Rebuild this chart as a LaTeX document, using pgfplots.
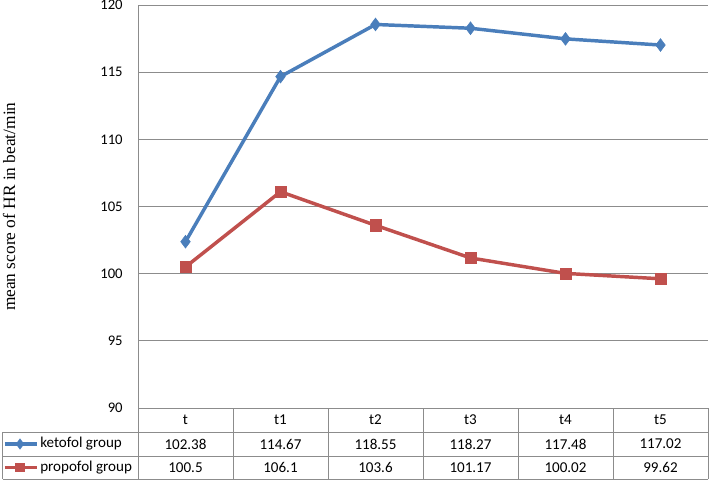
\documentclass[border=0pt]{standalone}
\usepackage{fontspec}
\setmainfont{Carlito}
\newfontfamily\timesfont{Liberation Serif}
\usepackage{pgfplots}
\usepackage{pgfplotstable}
\pgfplotsset{compat=1.18}
\definecolor{ketoblue}{RGB}{74,126,187}
\definecolor{propored}{RGB}{192,80,77}
\definecolor{gridgray}{RGB}{140,140,140}

\pgfplotstableread{
idx keto propo
0 102.38 100.5
1 114.67 106.1
2 118.55 103.6
3 118.27 101.17
4 117.48 100.02
5 117.02 99.62
}\hrdata

\begin{document}
\begin{tikzpicture}
\useasboundingbox (-103.5pt,-54pt) rectangle (428.25pt,306pt);
\begin{axis}[
    scale only axis,
    width=427.5pt, height=302.25pt,
    xmin=-0.5, xmax=5.5,
    ymin=90, ymax=120,
    ytick={90,95,...,120},
    xtick=\empty,
    ymajorgrids,
    grid style={gridgray, line width=0.75pt},
    axis line style={draw=none},
    major tick length=0pt,
    yticklabel style={font=\fontsize{11}{12}\selectfont, xshift=-8pt},
    /pgf/number format/assume math mode=true,
    clip=false,
]
\draw[gridgray, line width=0.75pt] (rel axis cs:0,0) -- (rel axis cs:0,1);
\addplot[ketoblue, line width=2.6pt, mark=diamond*,
    mark options={solid, line width=0.4pt}, mark size=4.8pt]
    table[x=idx, y=keto] {\hrdata};
\addplot[propored, line width=2.6pt, mark=square*,
    mark options={solid, line width=0.4pt}, mark size=4.2pt]
    table[x=idx, y=propo] {\hrdata};
\end{axis}

% data table under the plot
\begin{scope}[gridgray, line width=0.75pt]
\draw (0pt,0pt) -- (0pt,-53.25pt);
\draw (-101.25pt,-18pt) -- (427.5pt,-18pt);
\draw (-101.25pt,-36pt) -- (427.5pt,-36pt);
\draw (-101.25pt,-53.25pt) -- (427.5pt,-53.25pt);
\draw (-101.25pt,-18pt) -- (-101.25pt,-53.25pt);
\foreach \c in {1,...,6}
  \draw ({71.25pt*\c},0pt) -- ({71.25pt*\c},-53.25pt);
\end{scope}

\begin{scope}[every node/.style={font=\fontsize{11.3}{12}\selectfont, inner sep=0pt}]
\foreach \lab [count=\i from 0] in {t,t1,t2,t3,t4,t5}
  \node at ({35.625pt+71.25pt*\i},-9pt) {\lab};
\foreach \v [count=\i from 0] in {102.38,114.67,118.55,118.27,117.48,117.02}
  \node at ({35.625pt+71.25pt*\i},-27pt) {\v};
\foreach \v [count=\i from 0] in {100.5,106.1,103.6,101.17,100.02,99.62}
  \node at ({35.625pt+71.25pt*\i},-44.6pt) {\v};
\node[anchor=west] at (-73.5pt,-27pt) {ketofol group};
\node[anchor=west] at (-73.5pt,-44.6pt) {propofol group};
\end{scope}

% legend keys
\draw[ketoblue, line width=2.6pt] (-99.75pt,-27pt) -- (-75.75pt,-27pt);
\fill[ketoblue] (-88.5pt,-22.8pt) -- (-85.35pt,-27pt) -- (-88.5pt,-31.2pt) -- (-91.65pt,-27pt) -- cycle;
\draw[propored, line width=2.6pt] (-99.75pt,-44.6pt) -- (-75.75pt,-44.6pt);
\fill[propored] (-92.1pt,-48.2pt) rectangle (-84.9pt,-41pt);

\node[rotate=90, font=\timesfont\fontsize{13}{15}\selectfont] at (-96.75pt,151pt)
  {mean score of HR in beat/min};
\end{tikzpicture}
\end{document}
